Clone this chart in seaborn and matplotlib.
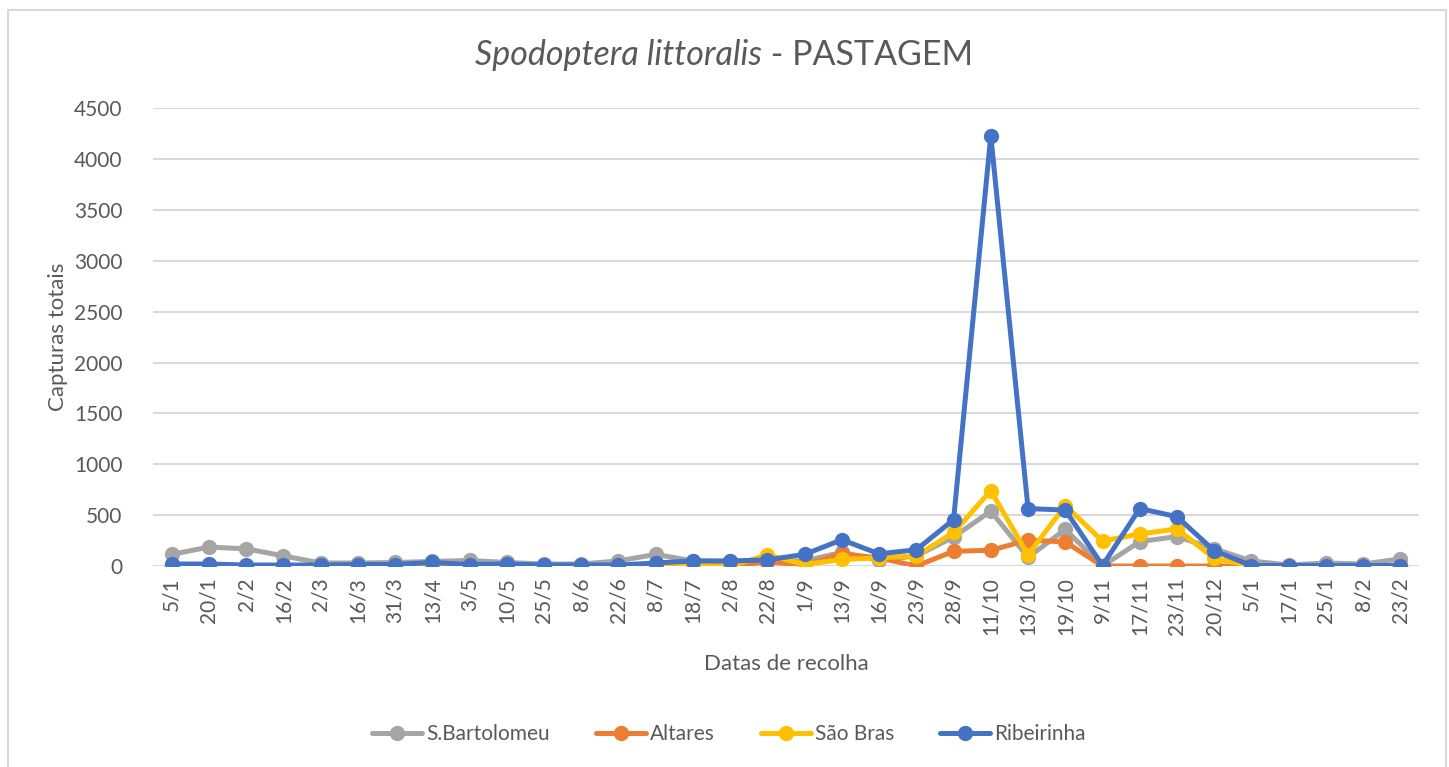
import matplotlib
matplotlib.use("Agg")
import matplotlib.pyplot as plt
import pandas as pd
import seaborn as sns
from matplotlib.patches import Rectangle


# Data
dates = ["5/1", "20/1", "2/2", "16/2", "2/3", "16/3", "31/3", "13/4", "3/5", "10/5",
         "25/5", "8/6", "22/6", "8/7", "18/7", "2/8", "22/8", "1/9", "13/9", "16/9",
         "23/9", "28/9", "11/10", "13/10", "19/10", "9/11", "17/11", "23/11", "20/12",
         "5/1", "17/1", "25/1", "8/2", "23/2"]

s_bartolomeu = [115, 186, 170, 100, 30, 30, 35, 45, 55, 35, 20, 20, 50, 115, 50, 45, 50,
                50, 135, 55, 100, 285, 540, 85, 360, 0, 240, 290, 170, 50, 10, 30, 20, 70]
altares = [0, 0, 0, 0, 0, 0, 0, 0, 0, 0, 0, 0, 0, 0, 0, 0, 40,
           10, 120, 80, 0, 145, 155, 255, 237, 0, 0, 0, 0, 0, 0, 0, 0, 0]
sao_bras = [0, 0, 0, 0, 0, 0, 0, 0, 0, 0, 0, 0, 0, 0, 0, 0, 110,
            15, 65, 80, 100, 330, 740, 110, 595, 245, 315, 365, 75, 0, 0, 0, 0, 0]
ribeirinha = [20, 20, 10, 10, 10, 15, 15, 35, 15, 20, 10, 10, 10, 30, 50, 50, 60,
              115, 258, 120, 160, 455, 4230, 565, 550, 5, 565, 485, 150, 5, 5, 5, 5, 5]

series_names = ["S.Bartolomeu", "Altares", "São Bras", "Ribeirinha"]
colors = ["#a5a5a5", "#ed7d31", "#ffc000", "#4472c4"]

# Long-form table for seaborn
frames = []
for name, vals in zip(series_names, [s_bartolomeu, altares, sao_bras, ribeirinha]):
    frames.append(pd.DataFrame({"pos": range(len(dates)), "value": vals, "site": name}))
df = pd.concat(frames, ignore_index=True)

sns.set_style("white")
plt.rcParams["font.family"] = ["Lato", "DejaVu Sans"]
text_color = "#595959"
grid_color = "#d9d9d9"

fig = plt.figure(figsize=(14.49, 7.67), dpi=100)
ax = fig.add_axes([0.1056, 0.262, 0.8737, 0.597])

sns.lineplot(data=df, x="pos", y="value", hue="site", hue_order=series_names,
             palette=colors, marker="o", markersize=11, markeredgewidth=0,
             linewidth=3.6, sort=False, ax=ax)

# Axes styling
ax.set_xlim(-0.5, len(dates) - 0.5)
ax.set_ylim(0, 4500)
ax.set_yticks(range(0, 4501, 500))
ax.set_xticks(range(len(dates)))
ax.set_xticklabels(dates, rotation=90)
ax.tick_params(axis="both", length=0, labelsize=15, colors=text_color)
ax.tick_params(axis="x", pad=8)
ax.tick_params(axis="y", pad=22)
ax.grid(axis="y", color=grid_color, linewidth=1.5)
ax.set_axisbelow(True)
for side in ["top", "right", "left", "bottom"]:
    ax.spines[side].set_visible(False)

ax.set_xlabel("Datas de recolha", fontsize=16, color=text_color, labelpad=14)
ax.set_ylabel("Capturas totais", fontsize=16, color=text_color, labelpad=4)

# Title with italic species name
t1 = fig.text(0.0, 0.928, "Spodoptera littoralis", style="italic", fontsize=24.5,
              color=text_color, va="center", ha="left")
t2 = fig.text(0.0, 0.928, " - PASTAGEM", fontsize=24.5, color=text_color,
              va="center", ha="left")
fig.canvas.draw()
r = fig.canvas.get_renderer()
w1 = t1.get_window_extent(r).width / fig.bbox.width
w2 = t2.get_window_extent(r).width / fig.bbox.width
x0 = 0.5 - (w1 + w2) / 2
t1.set_x(x0)
t2.set_x(x0 + w1)

# Legend at the bottom
leg = ax.legend(loc="center", bbox_to_anchor=(0.503, 0.043), bbox_transform=fig.transFigure,
                ncol=4, frameon=False, fontsize=15, handlelength=2.4,
                columnspacing=2.2, handletextpad=0.2)
for txt in leg.get_texts():
    txt.set_color(text_color)

# Chart area border
fig.patches.append(Rectangle((0.0055, -0.01), 0.9925, 0.997, transform=fig.transFigure,
                             fill=False, edgecolor=grid_color, linewidth=1.5))

fig.savefig("out.png", dpi=100)
